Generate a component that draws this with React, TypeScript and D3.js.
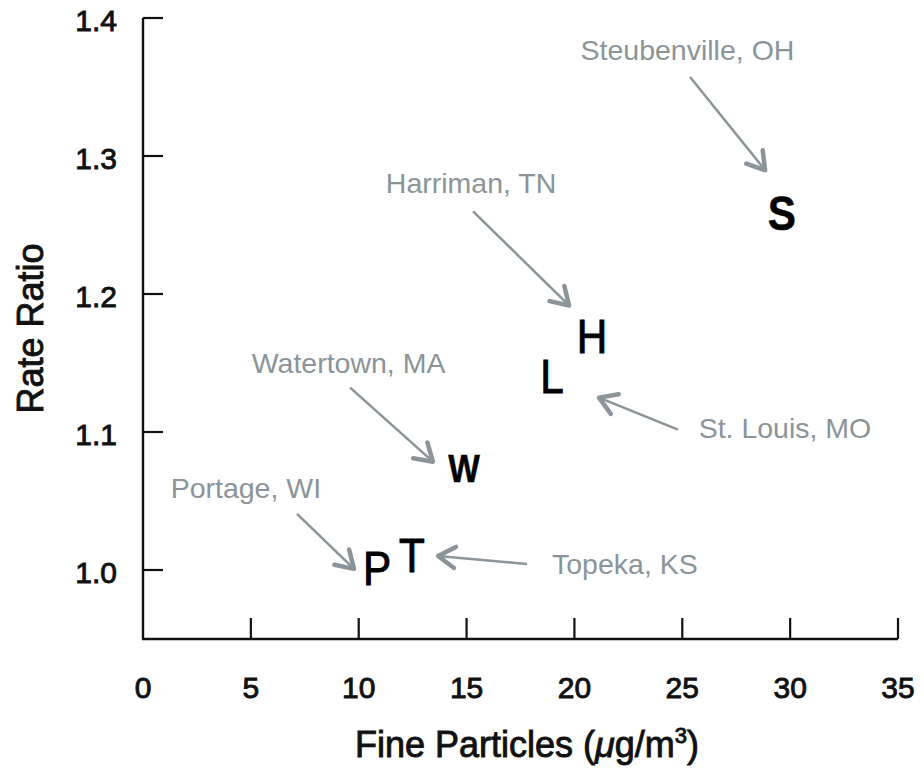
import React from "react";
import * as d3 from "d3";

const cities = ["Steubenville, OH", "Harriman, TN", "St. Louis, MO", "Watertown, MA", "Portage, WI", "Topeka, KS"];
const letters = ["S", "H", "L", "W", "P", "T"];
const fineParticles = [29.62, 20.81, 18.96, 14.88, 10.85, 12.47];
const rateRatio = [1.259, 1.17, 1.141, 1.074, 1.002, 1.011];

// annotation label anchors and arrows, in data units
const labelX = [25.24, 15.21, 29.76, 9.53, 4.77, 22.34];
const labelY = [1.3695, 1.273, 1.0959, 1.1431, 1.0523, 0.9972];
const arrowFromX = [25.36, 15.3, 24.8, 9.6, 7.14, 17.8];
const arrowFromY = [1.3572, 1.2599, 1.1017, 1.1322, 1.0407, 1.0044];
const arrowToX = [28.84, 19.75, 21.14, 13.44, 9.78, 13.68];
const arrowToY = [1.2897, 1.1917, 1.1249, 1.0785, 1.0008, 1.0102];

const xTicks = [0, 5, 10, 15, 20, 25, 30, 35];
const yTicks = [1.0, 1.1, 1.2, 1.3, 1.4];

const W = 924;
const H = 768;
const FONT = "'Liberation Sans', Arial, Helvetica, sans-serif";
const GRAY = "#8a9499";

export default function App() {
  const x = d3.scaleLinear().domain([0, 35]).range([143, 898]);
  const y = d3.scaleLinear().domain([0.95, 1.4]).range([639, 18]);
  const fmt = d3.format(".1f");

  const arrowHead = (x1: number, y1: number, x2: number, y2: number) => {
    const ang = Math.atan2(y1 - y2, x1 - x2);
    const len = 20;
    const spread = (32 * Math.PI) / 180;
    const a1 = [x2 + len * Math.cos(ang + spread), y2 + len * Math.sin(ang + spread)];
    const a2 = [x2 + len * Math.cos(ang - spread), y2 + len * Math.sin(ang - spread)];
    return `M${a1[0]},${a1[1]}L${x2},${y2}L${a2[0]},${a2[1]}`;
  };

  const letterSize: Record<string, number> = { W: 38 };
  const letterBold: Record<string, boolean> = { W: true, S: true };

  return (
    <svg width={W} height={H} style={{ position: "absolute", left: 0, top: 0, background: "#fff" }} fontFamily={FONT}>
      <rect width={W} height={H} fill="#fff" />
      {/* axes */}
      <line x1={x(0)} x2={x(0)} y1={y(1.4)} y2={y(0.95)} stroke="#111" strokeWidth={2.4} />
      <line x1={x(0) - 1} x2={x(35)} y1={y(0.95)} y2={y(0.95)} stroke="#111" strokeWidth={2.4} />
      {yTicks.map((t) => (
        <g key={"y" + t}>
          <line x1={x(0)} x2={x(0) + 20} y1={y(t)} y2={y(t)} stroke="#111" strokeWidth={2.2} />
          <text x={117} y={y(t) + 13} textAnchor="end" fontSize={30} fill="#111" stroke="#111" strokeWidth={0.9}>
            {fmt(t)}
          </text>
        </g>
      ))}
      {xTicks.map((t) => (
        <g key={"x" + t}>
          {t > 0 && <line x1={x(t)} x2={x(t)} y1={y(0.95)} y2={y(0.95) - 21} stroke="#111" strokeWidth={2.2} />}
          <text x={x(t)} y={698} textAnchor="middle" fontSize={30} fill="#111" stroke="#111" strokeWidth={0.9}>
            {t}
          </text>
        </g>
      ))}
      <text
        transform={`translate(43,${(y(1.4) + y(0.95)) / 2}) rotate(-90)`}
        textAnchor="middle"
        fontSize={36}
        fill="#111"
        stroke="#111"
        strokeWidth={0.9}
      >
        Rate Ratio
      </text>
      <text x={527} y={757} textAnchor="middle" fontSize={36} fill="#111" stroke="#111" strokeWidth={0.9}>
        Fine Particles (<tspan fontStyle="italic">μ</tspan>g/m<tspan fontSize={22} dy={-14}>3</tspan>
        <tspan dy={14}>)</tspan>
      </text>

      {/* data letters */}
      {letters.map((l, i) => (
        <g key={l} transform={`translate(${x(fineParticles[i])},${y(rateRatio[i])}) scale(0.88,1)`}>
          <text
            x={0}
            y={0}
            dy="0.36em"
            textAnchor="middle"
            fontSize={letterSize[l] ?? 48}
            fontWeight={letterBold[l] ? "bold" : "normal"}
            fill="#000"
            stroke="#000"
            strokeWidth={letterBold[l] ? 0.5 : 1}
          >
            {l}
          </text>
        </g>
      ))}

      {/* annotations */}
      {cities.map((c, i) => {
        const x1 = x(arrowFromX[i]);
        const y1 = y(arrowFromY[i]);
        const x2 = x(arrowToX[i]);
        const y2 = y(arrowToY[i]);
        return (
          <g key={c}>
            <text x={x(labelX[i])} y={y(labelY[i])} textAnchor="middle" fontSize={28.5} fill={GRAY}>
              {c}
            </text>
            <line x1={x1} y1={y1} x2={x2} y2={y2} stroke={GRAY} strokeWidth={2.5} />
            <path d={arrowHead(x1, y1, x2, y2)} fill="none" stroke={GRAY} strokeWidth={4.5} strokeLinecap="round" strokeLinejoin="round" />
          </g>
        );
      })}
    </svg>
  );
}
